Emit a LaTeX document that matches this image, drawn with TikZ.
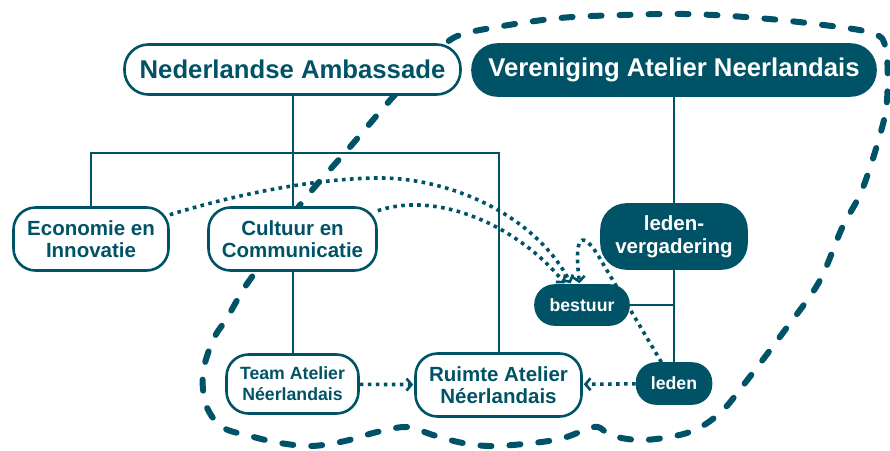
\documentclass[tikz,border=0pt]{standalone}
\usepackage{fontspec}
\setmainfont{Liberation Sans}
\usetikzlibrary{arrows.meta,backgrounds}
\definecolor{atelierTeal}{RGB}{0,83,102}
\newcommand{\fontL}{\fontsize{25.7}{28}\selectfont\bfseries}
\newcommand{\fontM}{\fontsize{20.5}{22.5}\selectfont\bfseries}
\newcommand{\fontS}{\fontsize{17.7}{21}\selectfont\bfseries}

\begin{document}
\begin{tikzpicture}
[x=1pt,y=-1pt,
  boxDecorate/.style={draw=atelierTeal,line width=2.6pt,fill=white,text=atelierTeal,align=center,inner sep=0pt},
  darkDecorate/.style={boxDecorate,fill=atelierTeal,text=white},
  lineDecorate/.style={draw=atelierTeal,line width=2pt},
  flowDecorate/.style={draw=atelierTeal,line width=3.6pt,dash pattern=on 3.6pt off 4.4pt,
    -{Straight Barb[length=5pt,width=12pt,line width'=2.6pt]},shorten >=1pt},
  loopDecorate/.style={draw=atelierTeal,line width=6pt,line cap=round,dash pattern=on 11pt off 18pt}]
\useasboundingbox (0,0) rectangle (890,450);
%% nodes
\node (amb) at (292.5,69.5) [boxDecorate,minimum width=336pt,minimum height=50pt,rounded corners=24pt,font=\fontL] {Nederlandse Ambassade};
\node (ver) at (674,70) [darkDecorate,minimum width=403pt,minimum height=51pt,rounded corners=25pt,font=\fontL] {Vereniging Atelier Neerlandais};
\node (eco) at (91,239) [boxDecorate,minimum width=155pt,minimum height=63pt,rounded corners=22pt,font=\fontM] {Economie en\\Innovatie};
\node (cult) at (292.5,239) [boxDecorate,minimum width=168pt,minimum height=63pt,rounded corners=22pt,font=\fontM] {Cultuur en\\Communicatie};
\node (team) at (292.5,384) [boxDecorate,minimum width=132pt,minimum height=59pt,rounded corners=22pt,font=\fontS] {Team Atelier\\Néerlandais};
\node (ruimte) at (498.5,385) [boxDecorate,minimum width=166pt,minimum height=63pt,rounded corners=22pt,font=\fontM] {Ruimte Atelier\\Néerlandais};
\node (ledenv) at (674,236.5) [darkDecorate,minimum width=145pt,minimum height=64pt,rounded corners=25pt,font=\fontM] {leden-\\vergadering};
\node (bestuur) at (582,305) [darkDecorate,minimum width=93pt,minimum height=39pt,rounded corners=19pt,font=\fontS] {bestuur};
\node (leden) at (674,383.5) [darkDecorate,minimum width=74pt,minimum height=40pt,rounded corners=19pt,font=\fontS] {leden};
\coordinate (split) at (292.5,153);
%% edges or lines
\begin{scope}[on background layer]
\foreach \startnode/\endnode in {amb/split, split/cult, cult/team, ver/ledenv, ledenv/leden}
{
  \draw[lineDecorate] (\startnode) -- (\endnode);
}
\draw[lineDecorate] (eco) |- (split) -| (ruimte);
\draw[lineDecorate] (bestuur) -- (bestuur -| ledenv);
\foreach \startnode/\endnode in {team/ruimte, leden/ruimte}
{
  \draw[flowDecorate] (\startnode) -- (\endnode);
}
\draw[flowDecorate] (eco) .. controls (240,193) and (320,178) .. (380,178)
  .. controls (450,178) and (535,215) .. (bestuur);
\draw[flowDecorate] (cult) .. controls (440,190) and (520,228) .. (bestuur);
\draw[flowDecorate] (leden) -- (602,262) .. controls (585,232) and (573,228) .. (bestuur);
%% dashed loop
\draw[loopDecorate] plot[smooth cycle,tension=0.55] coordinates {
  (300,205) (350,147) (393,97) (430,60) (455,37) (497,27) (560,18) (622,15)
  (685,14) (745,17) (807,23) (872,33) (886,50) (887,100) (880,135) (862,190)
  (842,228) (819,282) (785,330) (745,383) (720,413) (690,432) (645,440) (613,436)
  (598,427) (585,430) (555,440) (497,446) (463,443) (433,435) (407,427) (377,432)
  (345,441) (312,446) (280,443) (250,436) (222,427) (206,405) (203,373) (213,340)
  (227,318) (243,290) (258,268)};
\end{scope}
\end{tikzpicture}
\end{document}
